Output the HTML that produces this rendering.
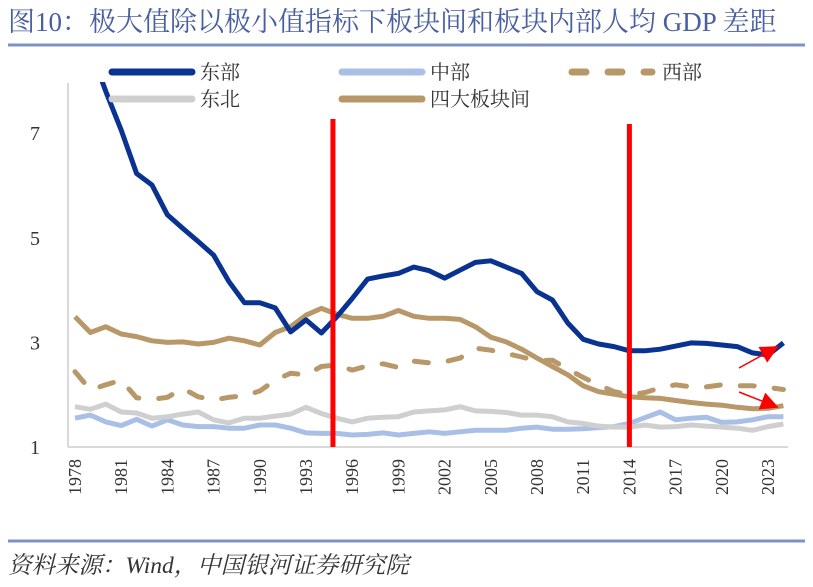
<!DOCTYPE html>
<html><head><meta charset="utf-8"><style>
body{margin:0;background:#fff;width:813px;height:582px;overflow:hidden;font-family:"Liberation Serif","Noto Serif CJK SC",serif}
</style></head><body>
<svg id="c" width="813" height="582" xmlns="http://www.w3.org/2000/svg">
<text x="8" y="31" font-size="27" fill="#4a5fa0" font-family="Liberation Serif, Noto Serif CJK SC, serif">图10：极大值除以极小值指标下板块间和板块内部人均 GDP 差距</text>
<line x1="8" y1="45" x2="805" y2="45" stroke="#7d92c4" stroke-width="3"/>
<line x1="8" y1="541" x2="805" y2="541" stroke="#7d92c4" stroke-width="3"/>
<text x="8" y="573" font-size="23.5" font-style="italic" fill="#333" font-family="Liberation Serif, Noto Serif CJK SC, serif">资料来源：Wind，中国银河证券研究院</text>
<defs><clipPath id="pc"><rect x="68" y="82" width="730" height="370"/></clipPath>
<marker id="ah" viewBox="0 0 10 10" refX="9" refY="5" markerWidth="18" markerHeight="18" markerUnits="userSpaceOnUse" orient="auto"><path d="M0,0L10,5L0,10z" fill="#ff0000"/></marker></defs>
<g id="axes"></g>
<g id="series" clip-path="url(#pc)"></g>
<g id="legend"></g>
</svg>
<script>
const years=[];for(let y=1978;y<=2024;y++)years.push(y);
const east=[9.5,8.6,7.8,7.06,6.23,6.01,5.44,5.18,4.93,4.67,4.16,3.76,3.76,3.66,3.20,3.43,3.18,3.49,3.84,4.21,4.27,4.32,4.44,4.37,4.23,4.38,4.53,4.56,4.44,4.32,3.97,3.81,3.37,3.06,2.97,2.92,2.84,2.84,2.87,2.93,2.99,2.98,2.95,2.92,2.80,2.76,2.99];
const central=[1.55,1.61,1.48,1.41,1.53,1.40,1.52,1.42,1.39,1.39,1.36,1.36,1.42,1.42,1.36,1.27,1.26,1.26,1.23,1.24,1.27,1.23,1.26,1.29,1.26,1.29,1.32,1.32,1.32,1.36,1.38,1.34,1.34,1.35,1.37,1.39,1.45,1.56,1.67,1.52,1.55,1.57,1.47,1.48,1.52,1.58,1.58];
const west=[2.44,2.09,2.19,2.28,1.94,1.91,1.95,2.12,1.96,1.90,1.95,1.98,2.07,2.28,2.41,2.38,2.54,2.57,2.47,2.55,2.59,2.52,2.64,2.61,2.63,2.70,2.89,2.85,2.79,2.72,2.65,2.66,2.49,2.33,2.19,2.06,2.00,2.04,2.13,2.19,2.15,2.15,2.19,2.17,2.17,2.14,2.10];
const northeast=[1.77,1.72,1.82,1.67,1.65,1.55,1.58,1.63,1.67,1.52,1.46,1.55,1.55,1.59,1.63,1.76,1.64,1.55,1.48,1.55,1.57,1.58,1.67,1.69,1.71,1.77,1.69,1.68,1.66,1.61,1.61,1.58,1.48,1.45,1.40,1.38,1.38,1.42,1.38,1.39,1.42,1.40,1.38,1.36,1.32,1.39,1.44];
const between=[3.49,3.19,3.30,3.16,3.11,3.03,3.00,3.01,2.97,3.00,3.08,3.03,2.95,3.19,3.30,3.52,3.65,3.54,3.46,3.46,3.50,3.61,3.50,3.46,3.46,3.44,3.30,3.10,3.01,2.87,2.70,2.54,2.38,2.17,2.06,2.01,1.96,1.94,1.93,1.89,1.85,1.82,1.80,1.76,1.73,1.74,1.79];
const yTicks=[1,3,5,7];
const xTickYears=[1978,1981,1984,1987,1990,1993,1996,1999,2002,2005,2008,2011,2014,2017,2020,2023];
const markerYears=[1994.75,2014];
const NS="http://www.w3.org/2000/svg";
const X=y=>75+(y-1978)*15.4;
const Y=v=>447-(v-1)*52.3;
function mk(tag,attrs,parent){const e=document.createElementNS(NS,tag);for(const k in attrs)e.setAttribute(k,attrs[k]);parent.appendChild(e);return e;}
const ax=document.getElementById('axes'),sr=document.getElementById('series'),lg=document.getElementById('legend');
let e=mk('line',{x1:68,y1:83,x2:68,y2:447,stroke:'#d9d9d9','stroke-width':2},ax);


e=mk('line',{x1:68,y1:447,x2:788,y2:447,stroke:'#d9d9d9','stroke-width':2},ax);


yTicks.forEach(v=>{const t=mk('text',{x:40,y:Y(v)+7,'font-size':20,fill:'#333','text-anchor':'end'},ax);t.textContent=v;

});
xTickYears.forEach(yr=>{const t=mk('text',{transform:`translate(${X(yr)+6},459) rotate(-90)`,'font-size':18,fill:'#333','text-anchor':'end'},ax);t.textContent=yr;

});
function line(data,color,dash,name){const d=data.map((v,i)=>(i?'L':'M')+X(years[i]).toFixed(1)+','+Y(v).toFixed(1)).join('');
const p=mk('path',{d:d,fill:'none',stroke:color,'stroke-width':5,'stroke-linejoin':'round','stroke-linecap':dash?'round':'butt'},sr);
if(dash)p.setAttribute('stroke-dasharray','14 20');

}
line(central,'#a9bfe6',null,'series-central');
line(northeast,'#d0cfcf',null,'series-northeast');
line(west,'#b89868',true,'series-west');
line(between,'#b89868',null,'series-between-regions');
line(east,'#0a3290',null,'series-east');
markerYears.forEach(yr=>{const l=mk('line',{x1:X(yr),y1:yr<2000?119:124,x2:X(yr),y2:447,stroke:'#ff0000','stroke-width':5},lg);

});
const a1=mk('line',{x1:739,y1:368,x2:777,y2:347,stroke:'#ff0000','stroke-width':1.5,'marker-end':'url(#ah)'},lg);


const a2=mk('line',{x1:739,y1:392,x2:777,y2:407,stroke:'#ff0000','stroke-width':1.5,'marker-end':'url(#ah)'},lg);


const legendItems=[[112,72,'#0a3290',false,'东部'],[342,72,'#a9bfe6',false,'中部'],[572,72,'#b89868',true,'西部'],[112,99,'#d0cfcf',false,'东北'],[342,99,'#b89868',false,'四大板块间']];
legendItems.forEach(it=>{const g=mk('g',{},lg);


const l=mk('line',{x1:it[0],y1:it[1],x2:it[0]+80,y2:it[1],stroke:it[2],'stroke-width':7,'stroke-linecap':'round'},g);
if(it[3])l.setAttribute('stroke-dasharray','14 22');
const t=mk('text',{x:it[0]+(it[3]?90:88),y:it[1]+7,'font-size':20,fill:'#333'},g);t.textContent=it[4];});
</script>
</body></html>
